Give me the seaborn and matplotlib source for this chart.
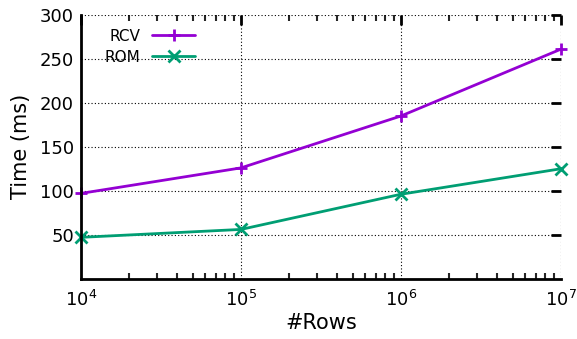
import matplotlib
matplotlib.use("Agg")
import matplotlib.pyplot as plt
import seaborn as sns
import pandas as pd
from matplotlib.ticker import LogLocator, NullFormatter, FixedLocator

rows = [1e4, 1e5, 1e6, 1e7]
rcv = [97, 126, 185, 261]
rom = [47, 56, 96, 125]
series_names = ["RCV", "ROM"]
yticks = [50, 100, 150, 200, 250, 300]

df = pd.DataFrame({
    "rows": rows * 2,
    "time": rcv + rom,
    "series": [series_names[0]] * 4 + [series_names[1]] * 4,
})

sns.set_theme(style="white")
plt.rcParams['font.family'] = ['DejaVu Sans']
plt.rcParams['mathtext.fontset'] = 'dejavusans'
plt.rcParams['text.color'] = 'black'
plt.rcParams['axes.labelcolor'] = 'black'

fig = plt.figure(figsize=(5.77, 3.39), dpi=100)
ax = fig.add_axes([0.1404, 0.178, 0.8316, 0.778])

palette = {"RCV": "#9400D3", "ROM": "#009E73"}
sns.lineplot(data=df, x="rows", y="time", hue="series", style="series",
             palette=palette, dashes=False, markers={"RCV": "+", "ROM": "x"},
             markersize=9, linewidth=2, ax=ax)

for ln in ax.lines:
    ln.set_markeredgecolor(ln.get_color())
    ln.set_markeredgewidth(2)
    ln.set_clip_on(False)

ax.set_xscale("log")
ax.set_xlim(1e4, 1e7)
ax.set_ylim(0, 300)
ax.yaxis.set_major_locator(FixedLocator(yticks))
ax.xaxis.set_major_locator(LogLocator(base=10, numticks=10))
ax.xaxis.set_minor_locator(LogLocator(base=10, subs=range(2, 10), numticks=20))
ax.xaxis.set_minor_formatter(NullFormatter())

for s in ["top", "right"]:
    ax.spines[s].set_visible(False)
for s in ["left", "bottom"]:
    ax.spines[s].set_linewidth(2)
    ax.spines[s].set_color("black")

ax.tick_params(axis="both", which="major", direction="in", length=7, width=2,
               top=True, right=True, labelsize=13, colors="black", pad=5)
ax.tick_params(axis="x", which="major", pad=8)
ax.tick_params(axis="x", which="minor", direction="in", length=4, width=1.5,
               top=True, bottom=True)
ax.grid(True, which="major", linestyle=(0, (1, 2)), color="black", linewidth=0.8)

ax.set_xlabel("#Rows", fontsize=15, labelpad=2, color="black")
ax.set_ylabel("Time (ms)", fontsize=15, labelpad=6, color="black")

leg = ax.legend(loc="upper left", frameon=False, markerfirst=False,
                fontsize=11, handlelength=2.8, bbox_to_anchor=(0.02, 1.0),
                labelspacing=0.4)
for t in leg.get_texts():
    t.set_ha("right")
    t.set_color("black")
for h in leg.legend_handles:
    h.set_markeredgecolor(h.get_color())
    h.set_markeredgewidth(2)
    h.set_markersize(9)

fig.savefig("out.png", dpi=100)
